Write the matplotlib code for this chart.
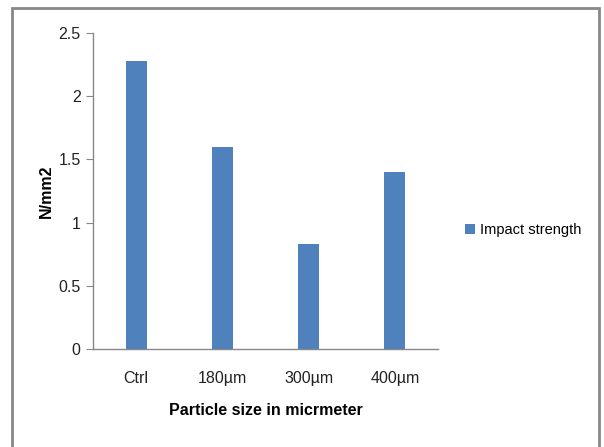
import matplotlib.pyplot as plt
from matplotlib.patches import Rectangle

# impact strength by particle size
categories = ["Ctrl", "180\u00b5m", "300\u00b5m", "400\u00b5m"]
impact = [2.28, 1.60, 0.83, 1.40]
yticks = [0, 0.5, 1, 1.5, 2, 2.5]
ytick_labels = ["0", "0.5", "1", "1.5", "2", "2.5"]

plt.rcParams['font.family'] = ['Liberation Sans', 'DejaVu Sans']

fig = plt.figure(figsize=(6.04, 4.47), dpi=100)
ax = fig.add_axes([0.154, 0.219, 0.571, 0.707])

bars = ax.bar(range(len(categories)), impact, width=0.245, color="#4F81BD",
              label="Impact strength")
ax.set_xlim(-0.5, len(categories) - 0.5)
ax.set_ylim(0, 2.5)
ax.set_yticks(yticks)
ax.set_yticklabels(ytick_labels)
ax.set_xticks(range(len(categories)))
ax.set_xticklabels(categories)

for s in ["top", "right"]:
    ax.spines[s].set_visible(False)
for s in ["left", "bottom"]:
    ax.spines[s].set_color("#888888")
    ax.spines[s].set_linewidth(1)
ax.tick_params(axis="y", length=5, color="#888888", labelsize=11.5, labelcolor="#222222", pad=4)
ax.tick_params(axis="x", length=0, labelsize=11.5, labelcolor="#222222", pad=16)

ax.set_ylabel("N/mm2", fontsize=11.5, fontweight="bold", labelpad=3)
ax.set_xlabel("Particle size in micrmeter", fontsize=11.5, fontweight="bold", labelpad=12)

fig.legend(handles=[bars], labels=["Impact strength"], loc="center left",
           bbox_to_anchor=(0.748, 0.485), frameon=False, fontsize=10.5,
           handlelength=0.7, handleheight=0.7, handletextpad=0.3)

# outer chart border
fig.patches.append(Rectangle((0.02, -0.05), 0.972, 1.032, transform=fig.transFigure,
                             fill=False, edgecolor="#888888", linewidth=2))

fig.savefig("out.png", dpi=100)
